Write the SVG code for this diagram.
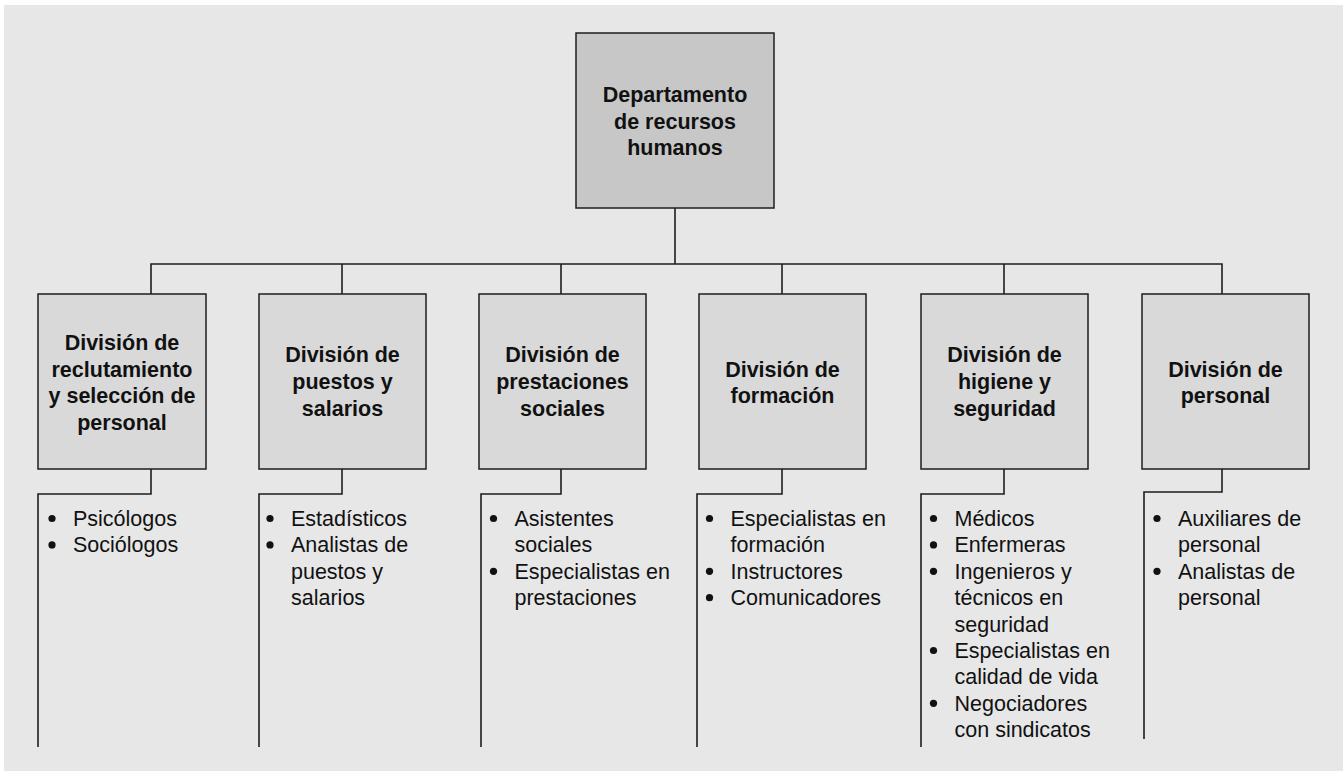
<svg xmlns="http://www.w3.org/2000/svg" width="1343" height="771" viewBox="0 0 1343 771">
<style>
.bg{fill:#e7e7e7}
.top{fill:#c7c7c7;stroke:#1e1e1e;stroke-width:1.5}
.div{fill:#d9d9d9;stroke:#1e1e1e;stroke-width:1.5}
.ln{fill:none;stroke:#1e1e1e;stroke-width:1.6}
.h{font-family:"Liberation Sans",Arial,sans-serif;font-weight:bold;font-size:21.5px;fill:#111;text-anchor:middle}
.it{font-family:"Liberation Sans",Arial,sans-serif;font-size:21.5px;fill:#111}
</style>
<defs>
<circle id="bu" r="3.6" fill="#111"/>
</defs>
<rect class="bg" x="4" y="5" width="1339" height="766"/>
<g id="connectors">
<path class="ln" d="M675 208V264M151 294V264H1222V294M342 264V294M561 264V294M782 264V294M1004 264V294"/>
<path class="ln" d="M151 469V494H38V747"/>
<path class="ln" d="M342 469V494H259V747"/>
<path class="ln" d="M561 469V494H481V747"/>
<path class="ln" d="M782 469V494H697V747"/>
<path class="ln" d="M1004 469V494H921V747"/>
<path class="ln" d="M1222 469V492H1144V739"/>
</g>
<g id="n0">
<rect class="top" x="576" y="33" width="198" height="175"/>
<text class="h" x="675" y="102">Departamento</text>
<text class="h" x="675" y="128.7">de recursos</text>
<text class="h" x="675" y="155.3">humanos</text>
</g>
<g id="n1">
<rect class="div" x="38" y="294" width="168" height="175"/>
<text class="h" x="122" y="350">División de</text>
<text class="h" x="122" y="376.7">reclutamiento</text>
<text class="h" x="122" y="403.3">y selección de</text>
<text class="h" x="122" y="430">personal</text>
</g>
<g id="n2">
<rect class="div" x="259" y="294" width="167" height="175"/>
<text class="h" x="342.5" y="362.3">División de</text>
<text class="h" x="342.5" y="389">puestos y</text>
<text class="h" x="342.5" y="415.7">salarios</text>
</g>
<g id="n3">
<rect class="div" x="479" y="294" width="167" height="175"/>
<text class="h" x="562.5" y="362.3">División de</text>
<text class="h" x="562.5" y="389">prestaciones</text>
<text class="h" x="562.5" y="415.7">sociales</text>
</g>
<g id="n4">
<rect class="div" x="699" y="294" width="167" height="175"/>
<text class="h" x="782.5" y="376.7">División de</text>
<text class="h" x="782.5" y="403.3">formación</text>
</g>
<g id="n5">
<rect class="div" x="921" y="294" width="167" height="175"/>
<text class="h" x="1004.5" y="362.3">División de</text>
<text class="h" x="1004.5" y="389">higiene y</text>
<text class="h" x="1004.5" y="415.7">seguridad</text>
</g>
<g id="n6">
<rect class="div" x="1142" y="294" width="167" height="175"/>
<text class="h" x="1225.5" y="376.7">División de</text>
<text class="h" x="1225.5" y="403.3">personal</text>
</g>
<g id="items1" class="it">
<use href="#bu" x="52" y="518.5"/><text x="73" y="526">Psicólogos</text>
<use href="#bu" x="52" y="544.9"/><text x="73" y="552.4">Sociólogos</text>
</g>
<g id="items2" class="it">
<use href="#bu" x="270" y="518.5"/><text x="291" y="526">Estadísticos</text>
<use href="#bu" x="270" y="544.9"/><text x="291" y="552.4">Analistas de</text>
<text x="291" y="578.8">puestos y</text>
<text x="291" y="605.2">salarios</text>
</g>
<g id="items3" class="it">
<use href="#bu" x="493.5" y="518.5"/><text x="514.5" y="526">Asistentes</text>
<text x="514.5" y="552.4">sociales</text>
<use href="#bu" x="493.5" y="571.3"/><text x="514.5" y="578.8">Especialistas en</text>
<text x="514.5" y="605.2">prestaciones</text>
</g>
<g id="items4" class="it">
<use href="#bu" x="709.5" y="518.5"/><text x="730.5" y="526">Especialistas en</text>
<text x="730.5" y="552.4">formación</text>
<use href="#bu" x="709.5" y="571.3"/><text x="730.5" y="578.8">Instructores</text>
<use href="#bu" x="709.5" y="597.7"/><text x="730.5" y="605.2">Comunicadores</text>
</g>
<g id="items5" class="it">
<use href="#bu" x="933.5" y="518.5"/><text x="954.5" y="526">Médicos</text>
<use href="#bu" x="933.5" y="544.9"/><text x="954.5" y="552.4">Enfermeras</text>
<use href="#bu" x="933.5" y="571.3"/><text x="954.5" y="578.8">Ingenieros y</text>
<text x="954.5" y="605.2">técnicos en</text>
<text x="954.5" y="631.6">seguridad</text>
<use href="#bu" x="933.5" y="650.5"/><text x="954.5" y="658">Especialistas en</text>
<text x="954.5" y="684.4">calidad de vida</text>
<use href="#bu" x="933.5" y="703.3"/><text x="954.5" y="710.8">Negociadores</text>
<text x="954.5" y="737.2">con sindicatos</text>
</g>
<g id="items6" class="it">
<use href="#bu" x="1157" y="518.5"/><text x="1178" y="526">Auxiliares de</text>
<text x="1178" y="552.4">personal</text>
<use href="#bu" x="1157" y="571.3"/><text x="1178" y="578.8">Analistas de</text>
<text x="1178" y="605.2">personal</text>
</g>
</svg>
